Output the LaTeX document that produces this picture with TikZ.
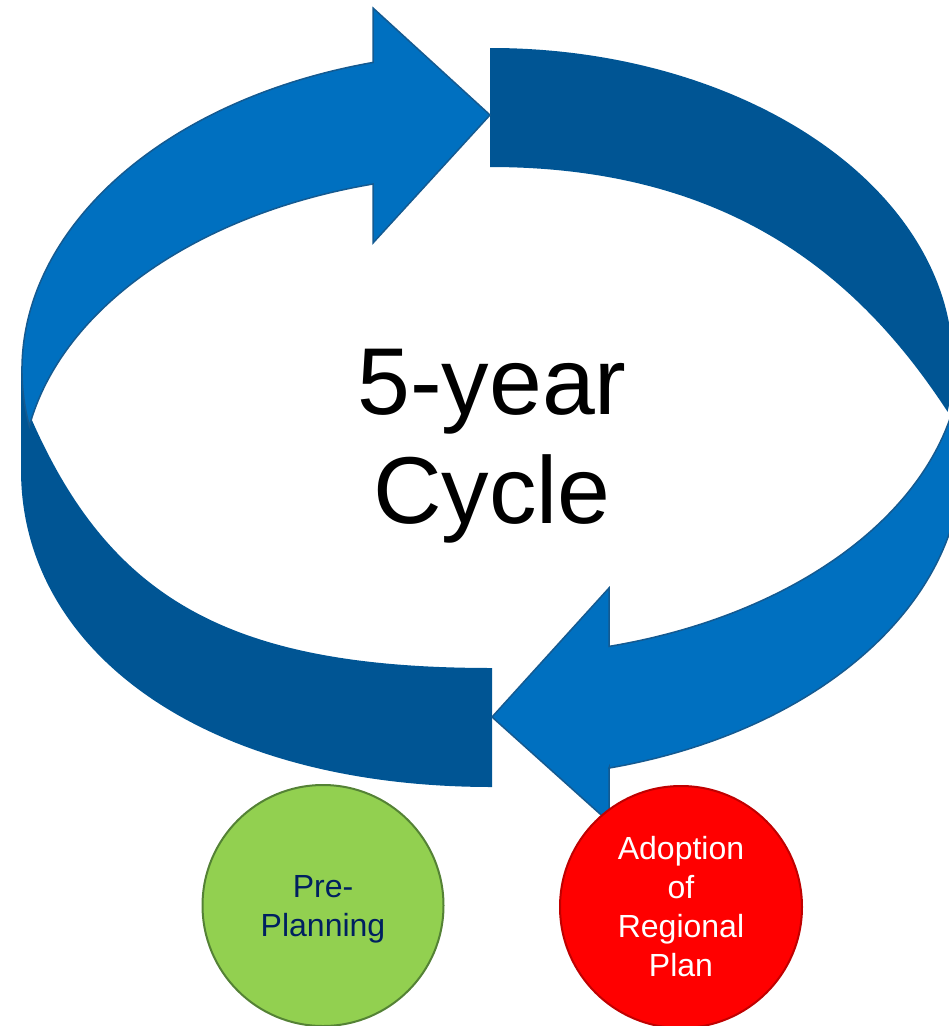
\documentclass[tikz,border=0pt]{standalone}
\usepackage{fontspec}
\setmainfont{Liberation Sans}
\definecolor{lightblue}{RGB}{0,112,192}
\definecolor{darkblue}{RGB}{0,85,148}
\definecolor{blueline}{RGB}{20,90,145}
\definecolor{greenfill}{RGB}{146,208,80}
\definecolor{greenline}{RGB}{84,130,53}
\definecolor{redline}{RGB}{192,0,0}
\definecolor{navy}{RGB}{0,32,96}
\begin{document}
\begin{tikzpicture}[x=1pt,y=1pt,
  darkband/.style={fill=darkblue},
  lightarrow/.style={fill=lightblue, draw=blueline, line width=1.5pt, line join=miter},
  stage/.style={circle, minimum size=241pt, inner sep=0pt, align=center,
    font=\fontsize{32}{39}\selectfont, line width=2pt}]
\useasboundingbox (0,0) rectangle (949,-1026);
\clip (0,0) rectangle (949,-1026);

% dark band, top right
\path[darkband] (490,-167) -- (490,-48)
  arc[start angle=90.12, end angle=-8.7, x radius=462, y radius=316]
  .. controls (866,-287) and (740,-167) .. (490,-167) -- cycle;

% dark band, bottom left
\path[darkband] (492,-668) -- (492,-787)
  .. controls (202,-787) and (21,-650) .. (21,-470)
  -- (21,-365) -- (31,-418)
  .. controls (111,-601) and (232,-668) .. (492,-668) -- cycle;

% light arrow, top
\path[lightarrow] (373,-62.4) -- (373,-8) -- (490,-115) -- (373,-243) -- (373,-184)
  arc[start angle=104.67, end angle=169.85, x radius=470, y radius=306]
  arc[start angle=190.15, end angle=104.67, x radius=470, y radius=318] -- cycle;

% light arrow, bottom
\path[lightarrow] (609,-768) -- (609,-822) -- (492,-717) -- (609,-588) -- (609,-646.4)
  arc[start angle=-75.58, end angle=-10.17, x radius=470, y radius=306]
  arc[start angle=10.15, end angle=-75.58, x radius=470, y radius=318] -- cycle;

\node[font=\fontsize{95}{109}\selectfont, align=center] (title) at (492,-446.5) {5-year\\Cycle};

\node[stage, fill=greenfill, draw=greenline, text=navy] (pre) at (323,-905.5) {\rule{0pt}{30pt}Pre-\\Planning};
\node[stage, fill=red, draw=redline, text=white, minimum size=242pt] (adopt) at (681,-907) {Adoption\\of\\Regional\\Plan};
\end{tikzpicture}
\end{document}
